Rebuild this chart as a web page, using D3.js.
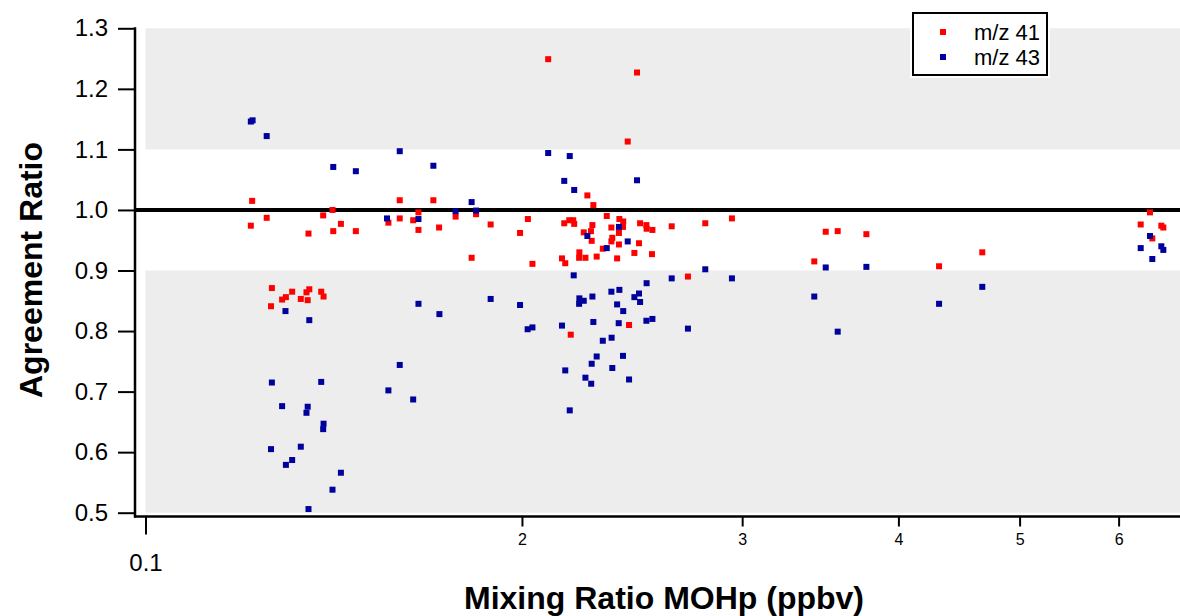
<!DOCTYPE html>
<html>
<head>
<meta charset="utf-8">
<script src="https://cdn.jsdelivr.net/npm/d3@7"></script>
<style>
  html, body { margin: 0; padding: 0; background: #ffffff; }
  svg { display: block; font-family: "Liberation Sans", Arial, sans-serif; }
</style>
</head>
<body>
<svg id="chart" width="1180" height="616"></svg>
<script>
// ---- data ----
const seriesNames = ["m/z 41", "m/z 43"];
const seriesColors = ["#ff0000", "#00009c"];

// m/z 41 (red)
const mz41X = [1.217,1.597,1.411,1.250,1.387,1.214,1.433,1.350,1.413,1.473,1.564,1.597,1.637,1.653,1.653,
  1.262,1.260,1.286,1.295,1.310,1.345,1.352,1.331,1.348,1.382,1.388,
  2.099,1.699,1.770,1.838,1.717,1.888,2.022,1.993,1.823,2.039,2.153,2.166,2.162,2.182,2.188,
  2.472,2.430,2.256,2.281,2.338,2.393,2.410,2.409,2.198,2.202,2.277,2.241,2.271,2.358,2.391,
  2.486,2.515,2.516,2.543,2.635,2.803,2.274,2.362,2.358,2.391,2.481,2.321,2.223,2.222,2.248,
  2.295,2.383,2.460,2.541,2.715,2.436,2.944,3.499,3.577,3.771,3.426,4.311,4.668,
  6.357,6.249,6.491,6.515,6.384];
const mz41Y = [1.015,1.016,1.000,0.987,0.991,0.974,0.977,0.961,0.965,0.965,0.979,0.986,0.983,0.996,0.967,
  0.871,0.841,0.852,0.856,0.865,0.864,0.869,0.853,0.851,0.865,0.857,
  1.249,1.016,0.989,0.993,0.971,0.976,0.985,0.962,0.921,0.911,0.920,0.912,0.978,0.983,0.794,
  1.227,1.113,1.024,1.008,0.990,0.985,0.981,0.972,0.983,0.977,0.975,0.963,0.965,0.971,0.962,
  0.978,0.975,0.969,0.967,0.973,0.978,0.949,0.954,0.948,0.943,0.945,0.936,0.930,0.921,0.921,
  0.923,0.920,0.929,0.927,0.890,0.810,0.986,0.964,0.965,0.960,0.915,0.907,0.930,
  0.996,0.976,0.974,0.971,0.953];

// m/z 43 (blue)
const mz43X = [1.214,1.218,1.250,1.597,1.413,1.473,1.560,1.653,1.653,1.294,1.352,1.597,1.262,1.382,1.564,
  1.637,1.286,1.348,1.345,1.388,1.387,1.260,1.331,1.310,1.295,1.433,1.411,1.350,
  2.099,2.184,1.699,2.162,1.823,1.770,1.838,1.718,1.888,1.993,2.021,2.039,2.153,2.166,2.184,
  2.202,2.472,2.391,2.256,2.430,2.338,2.803,2.200,2.635,2.516,2.358,2.393,2.481,2.460,2.486,
  2.223,2.241,2.222,2.277,2.383,2.410,2.281,2.390,2.515,2.543,2.715,2.321,2.359,2.295,2.409,
  2.274,2.362,2.248,2.272,2.436,2.944,3.426,3.499,3.577,3.771,4.311,4.668,
  6.357,6.249,6.491,6.515,6.384];
const mz43Y = [1.146,1.148,1.122,1.097,1.071,1.064,0.986,0.985,0.845,0.833,0.818,0.744,0.715,0.716,0.702,
  0.687,0.676,0.675,0.665,0.647,0.638,0.605,0.609,0.587,0.579,0.566,0.538,0.506,
  1.094,1.089,1.073,1.048,1.013,0.998,0.999,0.828,0.853,0.843,0.803,0.806,0.809,0.735,0.669,
  1.033,1.049,0.972,0.957,0.948,0.937,0.902,0.892,0.887,0.879,0.865,0.868,0.862,0.856,0.848,
  0.854,0.850,0.845,0.857,0.844,0.833,0.815,0.813,0.817,0.820,0.804,0.784,0.789,0.758,0.759,
  0.746,0.739,0.723,0.713,0.720,0.887,0.857,0.905,0.799,0.906,0.845,0.873,
  0.957,0.937,0.940,0.934,0.919];

const yTicks = [0.5, 0.6, 0.7, 0.8, 0.9, 1.0, 1.1, 1.2, 1.3];
const xTicks = [1, 2, 3, 4, 5, 6];
const xTickLabels = ["0.1", "2", "3", "4", "5", "6"];
const bands = [[0.5, 0.9], [1.1, 1.3]];
const refLine = 1.0;
const xTitle = "Mixing Ratio MOHp (ppbv)";
const yTitle = "Agreement Ratio";

// ---- layout ----
const svg = d3.select("#chart");
const W = 1180;
const axisX = 135, axisY = 516.5;
const x = d3.scaleLog().domain([1, 6.718]).range([145.5, 1180]);
const y = d3.scaleLinear().domain([0.5, 1.3]).range([512.7, 28.3]);

// background bands
svg.append("g").selectAll("rect").data(bands).join("rect")
  .attr("x", x(1)).attr("width", W - x(1))
  .attr("y", d => y(d[1])).attr("height", d => y(d[0]) - y(d[1]))
  .attr("fill", "#ededed");

// reference line
svg.append("line")
  .attr("x1", axisX).attr("x2", W)
  .attr("y1", y(refLine)).attr("y2", y(refLine))
  .attr("stroke", "#000").attr("stroke-width", 4);

// y axis
const yAxis = d3.axisLeft(y).tickValues(yTicks).tickSize(17).tickPadding(10)
  .tickFormat(d3.format(".1f"));
const gy = svg.append("g").attr("transform", `translate(${axisX},0)`).call(yAxis);
gy.select(".domain").remove();
gy.selectAll(".tick line").attr("stroke", "#000").attr("stroke-width", 2);
gy.selectAll(".tick text").attr("font-size", 24).attr("fill", "#000")
  .attr("font-family", "'Liberation Sans', Arial, sans-serif");
svg.append("line").attr("x1", axisX).attr("x2", axisX)
  .attr("y1", y(1.3) - 1).attr("y2", axisY + 1)
  .attr("stroke", "#000").attr("stroke-width", 2.5);

// x axis
const xAxis = d3.axisBottom(x).tickValues(xTicks)
  .tickSize(10).tickPadding(6)
  .tickFormat((d, i) => xTickLabels[i]);
const gx = svg.append("g").attr("transform", `translate(0,${axisY})`).call(xAxis);
gx.select(".domain").remove();
gx.selectAll(".tick line").attr("stroke", "#000").attr("stroke-width", 2)
  .attr("y2", (d, i) => i === 0 ? 18 : 10);
gx.selectAll(".tick text").attr("fill", "#000")
  .attr("font-family", "'Liberation Sans', Arial, sans-serif")
  .attr("font-size", (d, i) => i === 0 ? 24 : 16)
  .attr("y", (d, i) => i === 0 ? 37 : 17);
svg.append("line").attr("x1", axisX - 1).attr("x2", W)
  .attr("y1", axisY).attr("y2", axisY)
  .attr("stroke", "#000").attr("stroke-width", 2.5);

// points
const S = 6;
function drawSeries(xs, ys, color) {
  const pts = xs.map((v, i) => ({ x: v, y: ys[i] }));
  svg.append("g").selectAll("rect").data(pts).join("rect")
    .attr("x", d => x(d.x) - S / 2).attr("y", d => y(d.y) - S / 2)
    .attr("width", S).attr("height", S).attr("fill", color);
}
drawSeries(mz41X, mz41Y, seriesColors[0]);
drawSeries(mz43X, mz43Y, seriesColors[1]);

// titles
svg.append("text").attr("x", 664).attr("y", 609).attr("text-anchor", "middle")
  .attr("font-size", 32).attr("font-weight", "bold").attr("fill", "#000")
  .text(xTitle);
svg.append("text").attr("transform", "translate(42,270) rotate(-90)")
  .attr("text-anchor", "middle")
  .attr("font-size", 32).attr("font-weight", "bold").attr("fill", "#000")
  .text(yTitle);

// legend
const lg = svg.append("g");
lg.append("rect").attr("x", 910).attr("y", 10).attr("width", 140).attr("height", 68).attr("fill", "#fff");
lg.append("rect").attr("x", 913).attr("y", 13).attr("width", 134).attr("height", 62)
  .attr("fill", "#fff").attr("stroke", "#000").attr("stroke-width", 2);
seriesNames.forEach((name, i) => {
  const cy = 32 + i * 25;
  lg.append("rect").attr("x", 943 - S / 2).attr("y", cy - S / 2).attr("width", S).attr("height", S)
    .attr("fill", seriesColors[i]);
  lg.append("text").attr("x", 974).attr("y", cy + 7.5).attr("font-size", 22).attr("fill", "#000")
    .text(name);
});
</script>
</body>
</html>
